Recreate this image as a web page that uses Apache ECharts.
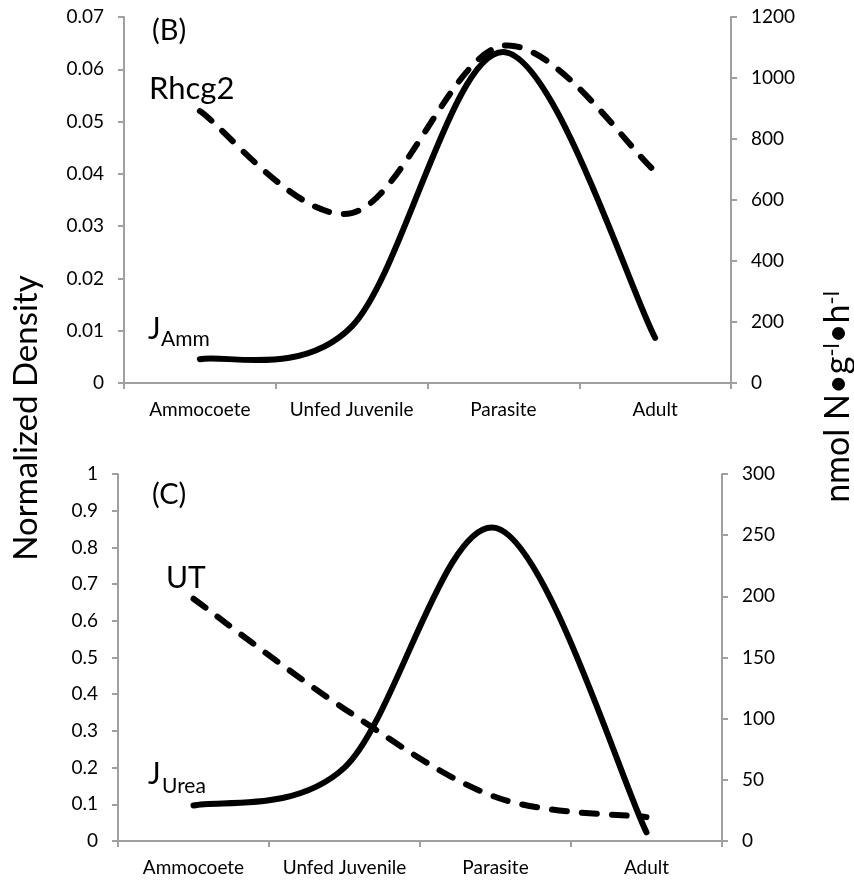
<!DOCTYPE html>
<html><head><meta charset="utf-8">
<script src="https://cdn.jsdelivr.net/npm/echarts@6/dist/echarts.min.js"></script>
<style>html,body{margin:0;padding:0;background:#fff}#c{width:854px;height:880px}</style>
</head><body><div id="c"></div>
<script>
// ---- data ----
const categories = ['Ammocoete', 'Unfed Juvenile', 'Parasite', 'Adult'];
// Panel (B)
const rhcg2 = [0.052, 0.0325, 0.0645, 0.0405];      // Normalized density (left)
const jAmm = [78, 185, 1085, 148];                    // nmol N g-1 h-1 (right)
const bLeftTicks = [0, 0.01, 0.02, 0.03, 0.04, 0.05, 0.06, 0.07];
const bRightTicks = [0, 200, 400, 600, 800, 1000, 1200];
// Panel (C)
const ut = [0.66, 0.36, 0.12, 0.065];                 // Normalized density (left)
const jUrea = [29, 60, 256, 7];                       // nmol N g-1 h-1 (right)
const cLeftTicks = [0, 0.1, 0.2, 0.3, 0.4, 0.5, 0.6, 0.7, 0.8, 0.9, 1];
const cRightTicks = [0, 50, 100, 150, 200, 250, 300];

// ---- styling ----
const FONT = 'Lato';
const AX = '#a0a0a0';
const TXT = '#000';

function fmt(v) { return String(parseFloat(Number(v).toFixed(4))); }

function tickAxis(ticks, gridIndex, position) {
  return {
    type: 'value', gridIndex, position,
    min: ticks[0], max: ticks[ticks.length - 1], interval: ticks[1] - ticks[0],
    splitLine: { show: false },
    axisLine: { show: true, lineStyle: { color: AX, width: 2 } },
    axisTick: { show: true, length: 6, lineStyle: { color: AX, width: 2 } },
    axisLabel: { color: TXT, fontSize: 19, fontFamily: FONT, margin: 20, formatter: fmt }
  };
}
function catAxis(gridIndex) {
  return {
    type: 'category', gridIndex, data: categories, boundaryGap: true,
    axisLine: { show: true, lineStyle: { color: AX, width: 2 } },
    axisTick: { show: true, length: 6, interval: 0, lineStyle: { color: AX, width: 2 } },
    axisLabel: { color: TXT, fontSize: 19, fontFamily: FONT, margin: 17, interval: 0 }
  };
}

// Excel-style smoothed curve through the points given by the axes (api.coord)
function smoothPath(pts) {
  const n = pts.length;
  const dist = (a, b) => Math.hypot(b[0] - a[0], b[1] - a[1]);
  let d = 'M' + pts[0][0] + ',' + pts[0][1];
  for (let i = 0; i < n - 1; i++) {
    const p0 = pts[Math.max(i - 1, 0)], p1 = pts[i], p2 = pts[i + 1], p3 = pts[Math.min(i + 2, n - 1)];
    const seg = dist(p1, p2);
    const l1 = dist(p0, p2) || 1, l2 = dist(p1, p3) || 1;
    const f1 = Math.min(1 / 6, seg / (2 * l1)), f2 = Math.min(1 / 6, seg / (2 * l2));
    const c1 = [p1[0] + f1 * (p2[0] - p0[0]), p1[1] + f1 * (p2[1] - p0[1])];
    const c2 = [p2[0] - f2 * (p3[0] - p1[0]), p2[1] - f2 * (p3[1] - p1[1])];
    d += ' C' + c1[0] + ',' + c1[1] + ' ' + c2[0] + ',' + c2[1] + ' ' + p2[0] + ',' + p2[1];
  }
  return d;
}
function curveSeries(name, values, xAxisIndex, yAxisIndex, dashedLine) {
  return {
    name, type: 'custom', xAxisIndex, yAxisIndex,
    data: values.map((v, i) => [i, v]),
    encode: { x: 0, y: 1 },
    renderItem: function (params, api) {
      if (params.dataIndex !== 0) return null;
      const pts = values.map((v, i) => api.coord([i, v]));
      return {
        type: 'path',
        shape: { pathData: smoothPath(pts) },
        style: {
          fill: 'none', stroke: '#000', lineWidth: 6,
          lineDash: dashedLine ? [15, 15] : null, lineCap: 'round', lineJoin: 'round'
        }
      };
    }
  };
}

function txt(text, x, y, size) {
  return {
    type: 'text', x, y,
    style: { text, fontSize: size, fontFamily: FONT, fill: TXT, align: 'left', verticalAlign: 'middle' }
  };
}

const chart = echarts.init(document.getElementById('c'), null, { renderer: 'canvas' });
chart.setOption({
  animation: false,
  backgroundColor: '#fff',
  grid: [
    { left: 124, right: 123, top: 17, height: 366 },
    { left: 118, right: 132, top: 474, height: 367 }
  ],
  xAxis: [catAxis(0), catAxis(1)],
  yAxis: [
    tickAxis(bLeftTicks, 0, 'left'),
    tickAxis(bRightTicks, 0, 'right'),
    tickAxis(cLeftTicks, 1, 'left'),
    tickAxis(cRightTicks, 1, 'right')
  ],
  series: [
    curveSeries('JAmm', jAmm, 0, 1, false),
    curveSeries('Rhcg2', rhcg2, 0, 0, true),
    curveSeries('JUrea', jUrea, 1, 3, false),
    curveSeries('UT', ut, 1, 2, true)
  ],
  graphic: [
    txt('(B)', 152, 31, 29),
    txt('Rhcg2', 149, 89, 31),
    txt('J', 148, 329, 30),
    txt('Amm', 161, 339, 21),
    txt('(C)', 152, 495, 29),
    txt('UT', 166, 578, 30),
    txt('J', 148, 774, 30),
    txt('Urea', 162, 786, 21),
    {
      type: 'text', x: 26, y: 418, rotation: Math.PI / 2,
      style: { text: 'Normalized Density', fontSize: 33, fontFamily: FONT, fill: TXT, align: 'center', verticalAlign: 'middle' }
    },
    {
      type: 'text', x: 838, y: 397, rotation: Math.PI / 2,
      style: {
        text: '{a|nmol N•g}{s|-l}{a|•h}{s|-l}',
        fontFamily: FONT, fill: TXT, align: 'center', verticalAlign: 'middle',
        rich: {
          a: { fontSize: 34, fontFamily: FONT, fill: TXT },
          s: { fontSize: 22, fontFamily: FONT, fill: TXT, verticalAlign: 'top' }
        }
      }
    }
  ]
});
</script>
</body></html>
